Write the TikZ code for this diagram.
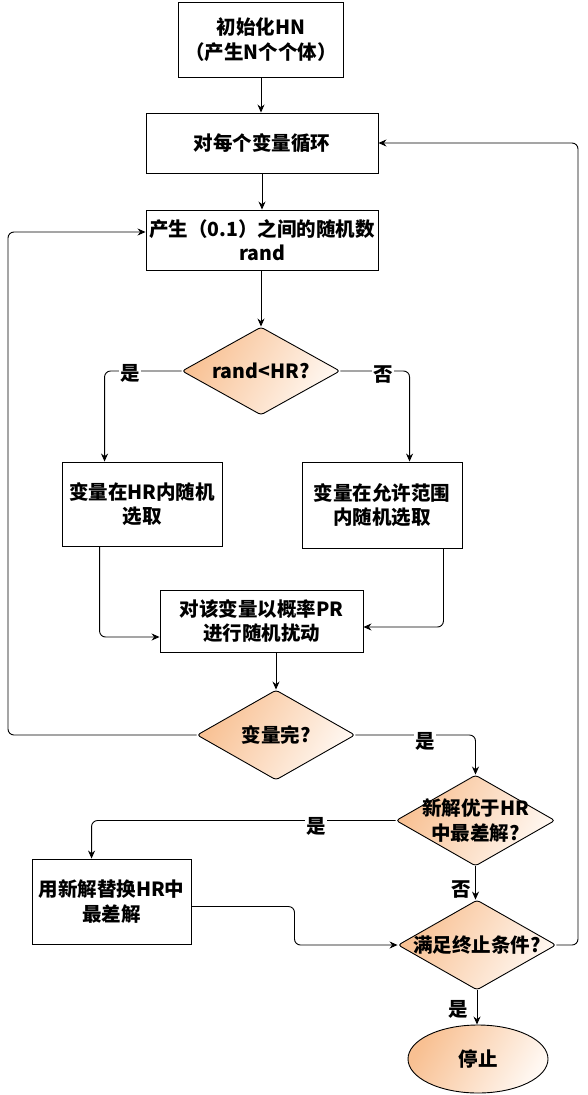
\documentclass[tikz,border=0pt]{standalone}
\usepackage{fontspec}
\setmainfont{Noto Sans CJK SC}
\usetikzlibrary{shapes.geometric,arrows.meta,calc}
\definecolor{peach}{RGB}{248,192,146}
\definecolor{peachlight}{RGB}{255,248,242}
\begin{document}
\begin{tikzpicture}[x=1pt,y=-1pt,
  font=\fontsize{19.5}{24.5}\selectfont\bfseries,
  box/.style={draw, line width=0.9pt, fill=white, align=center, inner sep=1pt},
  dia/.style={draw, line width=0.9pt, shape=diamond, inner sep=0pt, rounded corners=3pt,
    top color=peach, bottom color=peachlight, shading angle=60},
  dtext/.style={align=center},
  edge/.style={draw, line width=0.9pt, rounded corners=6pt, -{Stealth[length=8pt,width=7pt]}},
  lab/.style={fill=white, inner sep=1pt}]
\useasboundingbox (0,0) rectangle (588,1095);

\node[box, minimum width=165pt, minimum height=75pt] (init) at (261,39.5) {初始化HN\\（产生N个个体）};
\node[box, minimum width=232pt, minimum height=60pt] (loop) at (262,143) {对每个变量循环};
\node[box, minimum width=232pt, minimum height=60pt] (rand) at (262,240) {产生（0.1）之间的随机数\\rand};
\node[dia, minimum width=158pt, minimum height=88pt] (d1) at (261,371) {};
\node[dtext] at (d1.center) {rand<HR?};
\node[box, minimum width=160pt, minimum height=84pt] (lbox) at (142,504) {变量在HR内随机\\选取};
\node[box, minimum width=160pt, minimum height=86pt] (rbox) at (382,505) {变量在允许范围\\内随机选取};
\node[box, minimum width=203pt, minimum height=62pt] (pert) at (261.5,621) {对该变量以概率PR\\进行随机扰动};
\node[dia, minimum width=158pt, minimum height=90pt] (d2) at (276,735) {};
\node[dtext] at (d2.center) {变量完?};
\node[dia, minimum width=159pt, minimum height=91pt] (d3) at (475.5,820.5) {};
\node[dtext] at (d3.center) {新解优于HR\\中最差解?};
\node[box, minimum width=159pt, minimum height=85pt] (rep) at (111.5,901.5) {用新解替换HR中\\最差解};
\node[dia, minimum width=158pt, minimum height=90pt] (d4) at (477,945) {};
\node[dtext] at (d4.center) {满足终止条件?};
\node[draw, line width=0.9pt, shape=ellipse, minimum width=140pt, minimum height=68pt,
  top color=peach, bottom color=peachlight, shading angle=60] (stop) at (478,1059) {停止};

\coordinate (lc) at (8,232);
\coordinate (rc) at (578,500);

\draw[edge] (init.south) -- (init.south |- loop.north);
\draw[edge] (loop.south) -- (rand.north);
\draw[edge] (d1.north |- rand.south) -- (d1.north);
\draw[edge] (d1.west) -| ([xshift=43pt]lbox.north west);
\draw[edge] (d1.east) -| ([xshift=108pt]rbox.north west);
\draw[edge] ([xshift=38pt]lbox.south west) |- ([yshift=-16pt]pert.west);
\draw[edge] ([xshift=-19pt]rbox.south east) |- ([yshift=-6pt]pert.east);
\draw[edge] (d2.north |- pert.south) -- (d2.north);
\draw[edge] (d2.west) -| (lc) -- ([yshift=8pt]rand.west);
\draw[edge] (d2.east) -| (d3.north);
\draw[edge] (d3.west) -| ([xshift=60pt]rep.north west);
\draw[edge] (d3.south) -- (d3.south |- d4.north);
\draw[edge] ([yshift=-5pt]rep.east) -| ($(rep.east)!0.5!(d4.west)$) |- (d4.west);
\draw[edge] (d4.east) -| (rc) |- (loop.east);
\draw[edge] (d4.south) -- (d4.south |- stop.north);

\node[lab] (l1) at (130,373) {是};
\node[lab] (l2) at (383,375) {否};
\node[lab] (l3) at (425,741) {是};
\node[lab] (l4) at (316,826) {是};
\node[lab] (l5) at (461,890) {否};
\node[lab] (l6) at (458,1009) {是};
\end{tikzpicture}
\end{document}
